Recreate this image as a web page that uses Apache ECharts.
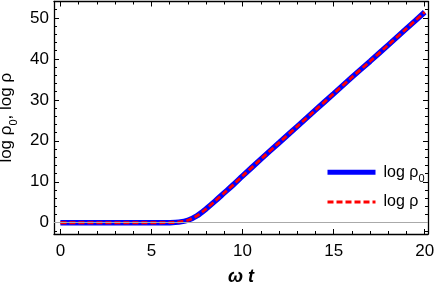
<!DOCTYPE html>
<html><head><meta charset="utf-8">
<script src="https://cdn.jsdelivr.net/npm/echarts@6/dist/echarts.min.js"></script>
<style>html,body{margin:0;padding:0;background:#fff}#c{width:436px;height:291px}</style>
</head><body><div id="c"></div>
<script>
// data
const tValues = [0,0.5,1,1.5,2,2.5,3,3.5,4,4.5,5,5.5,6,6.5,7,7.5,8,8.5,9,9.5,10,11,12,13,14,15,16,17,18,19,20];
const logRho0 = [0,0,0,0,0,0,0,0,0,0,0,0,0.02,0.15,0.6,1.7,3.4,5.3,7.3,9.3,11.4,15.5,19.5,23.5,27.5,31.5,35.5,39.4,43.4,47.4,51.4];
const logRho  = [0,0,0,0,0,0,0,0,0,0,0,0,0.02,0.15,0.6,1.7,3.4,5.3,7.3,9.3,11.4,15.5,19.5,23.5,27.5,31.5,35.5,39.4,43.4,47.4,51.4];
const xMajor = [0,5,10,15,20];
const xMinor = [0,1,2,3,4,5,6,7,8,9,10,11,12,13,14,15,16,17,18,19,20];
const yMajor = [0,10,20,30,40,50];
const yMinor = [-2,0,2,4,6,8,10,12,14,16,18,20,22,24,26,28,30,32,34,36,38,40,42,44,46,48,50,52,54];

const X_MIN=-0.35, X_MAX=20.18, Y_MIN=-2.75, Y_MAX=54.0;
const FONT='Liberation Sans';
const axisLineStyle={show:true,onZero:false,lineStyle:{color:'#000',width:1.3}};

function xAx(g, pos, vals, len, labels, withLine){
  return {type:'value',gridIndex:g,position:pos,min:X_MIN,max:X_MAX,
    axisLine: withLine?axisLineStyle:{show:false,onZero:false},
    splitLine:{show:false},
    axisTick:{show:true,inside:true,length:len,customValues:vals,lineStyle:{color:'#000',width:1}},
    axisLabel:{show:labels,customValues:vals,margin:9,color:'#000',fontFamily:FONT,fontSize:17}};
}
function yAx(g, pos, vals, len, labels, withLine){
  return {type:'value',gridIndex:g,position:pos,min:Y_MIN,max:Y_MAX,
    axisLine: withLine?axisLineStyle:{show:false,onZero:false},
    splitLine:{show:false},
    axisTick:{show:true,inside:true,length:len,customValues:vals,lineStyle:{color:'#000',width:1}},
    axisLabel:{show:labels,customValues:vals,margin:5,color:'#000',fontFamily:FONT,fontSize:17}};
}
const xAxes=[xAx(0,'bottom',xMajor,5,true,true),xAx(0,'top',xMajor,5,false,true),xAx(1,'bottom',xMinor,3,false,false),xAx(1,'top',xMinor,3,false,false)];
xAxes[0].name='ω t';
xAxes[0].nameLocation='middle';
xAxes[0].nameGap=34;
xAxes[0].nameTextStyle={fontFamily:FONT,fontSize:18,fontWeight:'bold',fontStyle:'italic',color:'#000'};
const yAxes=[yAx(0,'left',yMajor,5,true,true),yAx(0,'right',yMajor,5,false,true),yAx(1,'left',yMinor,3,false,false),yAx(1,'right',yMinor,3,false,false)];
yAxes[0].name='{a|log ρ}{s|0}{a|, log ρ}';
yAxes[0].nameLocation='middle';
yAxes[0].nameGap=31;
yAxes[0].nameRotate=90;
const richSub={a:{fontFamily:FONT,fontSize:17,color:'#000'},s:{fontFamily:FONT,fontSize:11,color:'#000',verticalAlign:'bottom',padding:[0,0,-4,0]}};
yAxes[0].nameTextStyle={fontFamily:FONT,fontSize:17,color:'#000',rich:richSub};

const gridRect={left:54,right:8,top:1.5,bottom:57,containLabel:false,outerBoundsMode:'none'};
const chart=echarts.init(document.getElementById('c'),null,{renderer:'canvas'});
chart.setOption({
  animation:false,
  grid:[Object.assign({},gridRect),Object.assign({},gridRect)],
  xAxis:xAxes,
  yAxis:yAxes,
  legend:{
    left:325,top:164.3,padding:0,orient:'vertical',itemWidth:48,itemHeight:18,itemGap:9.7,
    itemStyle:{opacity:0},
    data:[{name:'log ρ0',lineStyle:{width:5}},{name:'log ρ',lineStyle:{width:3,type:[6,3]}}],
    formatter:function(n){return n==='log ρ0'?'{a|log ρ}{s|0}':'{a|log ρ}';},
    textStyle:{fontFamily:FONT,fontSize:16,color:'#000',padding:[0,0,0,3],
      rich:{a:{fontFamily:FONT,fontSize:16,color:'#000'},s:{fontFamily:FONT,fontSize:11,color:'#000',verticalAlign:'bottom',padding:[0,0,-4,0]}}}
  },
  series:[
    {name:'zero',type:'line',xAxisIndex:0,yAxisIndex:0,data:[],z:1,silent:true,
     markLine:{silent:true,symbol:'none',label:{show:false},lineStyle:{color:'#aaaaaa',width:1,type:'solid'},data:[{yAxis:0}]}},
    {name:'log ρ0',type:'line',xAxisIndex:0,yAxisIndex:0,showSymbol:false,symbol:'none',smooth:0.3,z:2,
     data:tValues.map((t,i)=>[t,logRho0[i]]),
     lineStyle:{color:'#0000ff',width:5.5},itemStyle:{color:'#0000ff'}},
    {name:'log ρ',type:'line',xAxisIndex:0,yAxisIndex:0,showSymbol:false,symbol:'none',smooth:0.3,z:3,
     data:tValues.map((t,i)=>[t,logRho[i]]),
     lineStyle:{color:'#ff0000',width:2.8,type:[6,3]},itemStyle:{color:'#ff0000'}}
  ]
});
</script></body></html>
